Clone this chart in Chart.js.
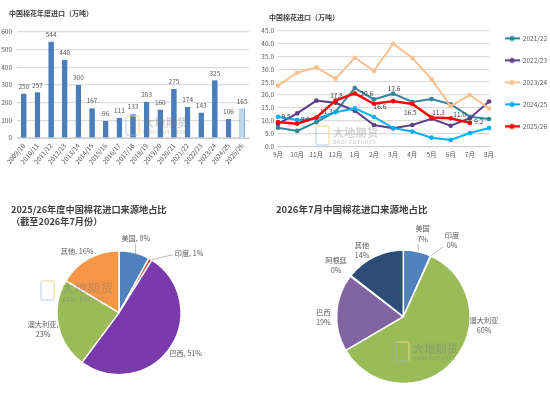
<!DOCTYPE html>
<html lang="zh"><head><meta charset="utf-8">
<script src="https://cdn.jsdelivr.net/npm/chart.js@4"></script>
<style>
html,body{margin:0;padding:0;width:550px;height:406px;overflow:hidden;background:#fff}
canvas{position:absolute;display:block}
.wm{position:absolute;font-family:"Noto Sans CJK SC",sans-serif;pointer-events:none;z-index:5}
.wm .cn{position:absolute;left:18px;top:-2px;font-size:11px;line-height:13px;font-weight:700;color:rgba(120,120,120,.33);white-space:nowrap;letter-spacing:.3px}
.wm .en{position:absolute;left:18px;top:11px;font-size:5px;line-height:6px;font-weight:700;color:rgba(120,120,120,.3);white-space:nowrap;letter-spacing:.6px}
.wm .lg{position:absolute;left:0;top:-3px;width:11px;height:17px;border:2px solid rgba(150,185,225,.35);border-right-color:rgba(240,215,140,.5);border-top-color:rgba(240,215,140,.5);border-radius:3px}
</style></head><body>
<canvas id="c1" style="left:0;top:0;width:265px;height:185px"></canvas>
<canvas id="c2" style="left:255px;top:0;width:335px;height:185px"></canvas>
<canvas id="c3" style="left:0;top:190px;width:265px;height:216px"></canvas>
<canvas id="c4" style="left:265px;top:190px;width:285px;height:216px"></canvas>
<div class="wm" style="left:125px;top:118px"><div class="lg"></div><div class="cn">大地期货</div><div class="en">DADI FUTURES</div></div>
<div class="wm" style="left:315px;top:128px"><div class="lg"></div><div class="cn">大地期货</div><div class="en">DADI FUTURES</div></div>
<div class="wm" style="left:40px;top:283px"><div class="lg"></div><div class="cn" style="left:22px;font-size:12.5px">大地期货</div><div class="en" style="left:22px;top:14px;font-size:5.5px">DADI FUTURES</div></div>
<div class="wm" style="left:395px;top:344px"><div class="lg"></div><div class="cn">大地期货</div><div class="en">DADI FUTURES</div></div>
<script>
const FONT = '"Noto Sans CJK SC","Noto Sans",sans-serif';
const GREY = '#595959';
const yearCats = ['2009/10','2010/11','2011/12','2012/13','2013/14','2014/15','2015/16','2016/17','2017/18','2018/19','2019/20','2020/21','2021/22','2022/23','2023/24','2024/25','2025/26'];
const yearVals = [250,257,544,440,300,167,96,111,133,203,160,275,174,143,325,106,165];
const months = ['9月','10月','11月','12月','1月','2月','3月','4月','5月','6月','7月','8月'];
const s2122 = [7.3,6.1,9.5,13.5,22.7,18.3,20.5,17.3,18.4,16.4,11.6,10.7];
const s2223 = [8.8,12.9,17.8,17.0,13.9,8.4,7.1,8.4,10.8,8.1,11.0,17.5];
const s2324 = [23.6,28.6,30.7,26.3,34.4,29.3,39.8,34.3,26.2,15.6,20.0,14.8];
const s2425 = [11.6,10.3,10.8,13.3,14.8,11.5,7.2,5.9,3.5,2.6,5.3,7.2];
const s2526 = [9.5,8.9,11.3,17.8,20.6,16.6,17.6,16.5,11.3,11.0,9.2,null];
const pieANames = ['美国','印度','巴西','澳大利亚','其他'];
const pieAVals = [8.0,0.9,51.3,23.4,16.4];
const pieBNames = ['美国','印度','澳大利亚','巴西','阿根廷','其他'];
const pieBVals = [6.7,0.1,59.8,18.8,0.2,14.4];

Chart.defaults.font.family = FONT;
Chart.defaults.color = GREY;
Chart.defaults.animation = false;
Chart.defaults.responsive = false;
Chart.defaults.devicePixelRatio = 1;

function size(id){const c=document.getElementById(id);c.width=parseInt(c.style.width);c.height=parseInt(c.style.height);return c;}

// The title starts further right than the axis labels
const titleShift = px => ({id:'titleShift',afterLayout(ch){ch.titleBlock.left=px;}});

const barLabels = {id:'barLabels',afterDatasetsDraw(ch){
  const c=ch.ctx;c.save();c.font='6.5px '+FONT;c.fillStyle=GREY;c.textAlign='center';c.textBaseline='middle';
  ch.getDatasetMeta(0).data.forEach((b,i)=>c.fillText(String(yearVals[i]),b.x,b.y-7.5));
  c.restore();}};

// Label shifts (px) relative to each 2025/26 point
const lineLabelShift = [[8,-6],[8,-4],[10,-6],[1,-5],[12,0],[6,2.5],[1,-13],[-2,9],[7,-5],[9,-4],[9,-1.5]];
const lineLabels = {id:'lineLabels',afterDatasetsDraw(ch){
  const c=ch.ctx;c.save();c.font='6.5px '+FONT;c.fillStyle='#404040';c.textAlign='center';c.textBaseline='middle';
  ch.getDatasetMeta(4).data.forEach((p,i)=>{ if(s2526[i]==null)return;
    c.fillText(s2526[i].toFixed(1),p.x+lineLabelShift[i][0],p.y+lineLabelShift[i][1]);});
  c.restore();}};

function swatch(col,w){const k=document.createElement('canvas');k.width=15;k.height=8;const x=k.getContext('2d');
  x.strokeStyle=col;x.lineWidth=w;x.beginPath();x.moveTo(0,4);x.lineTo(15,4);x.stroke();
  x.fillStyle=col;x.beginPath();x.arc(7.5,4,2.6,0,7);x.fill();return k;}

// Offsets (px) from the pie centre: label line positions, and leader lines
function pieLabels(id,names,vals,sep,pos,leaders){return {id,afterDatasetsDraw(ch){
  const c=ch.ctx,arc=ch.getDatasetMeta(0).data[0],cx=arc.x,cy=arc.y;
  c.save();c.strokeStyle='#a6a6a6';c.lineWidth=.8;
  leaders.forEach(l=>{c.beginPath();c.moveTo(cx+l[0],cy+l[1]);c.lineTo(cx+l[2],cy+l[3]);if(l.length>4)c.lineTo(cx+l[4],cy+l[5]);c.stroke();});
  c.font='7.2px '+FONT;c.fillStyle=GREY;c.textAlign='center';c.textBaseline='middle';
  names.forEach((n,i)=>{const p=Math.round(vals[i])+'%',q=pos[i];
    if(sep[i]){c.fillText(n+(sep[i]===2?',':''),cx+q[0],cy+q[1]);c.fillText(p,cx+q[0],cy+q[1]+10.3);}
    else c.fillText(n+', '+p,cx+q[0],cy+q[1]);});
  c.restore();}};}

const noGrid={display:false,drawTicks:false};
new Chart(size('c1'),{type:'bar',plugins:[barLabels,titleShift(9)],
 data:{labels:yearCats,datasets:[{data:yearVals,
   backgroundColor:yearCats.map((_,i)=>i===16?'#bdd7ee':'#4a7ebb'),
   borderColor:yearCats.map((_,i)=>i===16?'#5b9bd5':'#4a7ebb'),borderWidth:.6,barThickness:5}]},
 options:{layout:{padding:{left:0,right:16,top:0,bottom:7}},
  plugins:{legend:{display:false},tooltip:{enabled:false},
   title:{display:true,text:'中国棉花年度进口（万吨）',align:'start',color:'#404040',font:{size:7,weight:'bold',lineHeight:1.2},padding:{top:9,bottom:14.6}}},
  scales:{
   x:{grid:noGrid,border:{color:'#d0d0d0'},afterFit(a){a.height=40;},ticks:{font:{size:6.5},minRotation:50,maxRotation:50,padding:4,autoSkip:false}},
   y:{min:0,max:600,afterFit(a){a.width=17;},grid:{color:'#dcdcdc',lineWidth:1.2,drawTicks:false},border:{display:false},ticks:{font:{size:6.5},stepSize:100,padding:5}}}}});

new Chart(size('c2'),{type:'line',plugins:[lineLabels,titleShift(14)],
 data:{labels:months,datasets:[
  ['2021/22',s2122,'#31859c',2,5],['2022/23',s2223,'#5f3f86',2,4],['2023/24',s2324,'#fac090',2,3],['2024/25',s2425,'#00b0f0',2,2],['2025/26',s2526,'#ff0000',2.4,1]
 ].map(d=>({label:d[0],data:d[1],borderColor:d[2],backgroundColor:d[2],borderWidth:d[3],order:d[4],pointRadius:2.3,pointBorderWidth:0,tension:0,spanGaps:false}))},
 options:{layout:{padding:{left:0,right:33,top:0,bottom:20.3}},
  plugins:{tooltip:{enabled:false},
   legend:{position:'right',align:'center',labels:{usePointStyle:true,pointStyleWidth:15,boxHeight:7,font:{size:6.5},color:GREY,padding:15.5,
     sort:(a,b)=>a.datasetIndex-b.datasetIndex,
     generateLabels(ch){const L=Chart.defaults.plugins.legend.labels.generateLabels(ch);
       L.forEach(it=>{const d=ch.data.datasets[it.datasetIndex];it.pointStyle=swatch(d.borderColor,d.borderWidth);it.fontColor=GREY;});return L;}}},
   title:{display:true,text:'中国棉花进口（万吨）',align:'start',color:'#404040',font:{size:7,weight:'bold',lineHeight:1.2},padding:{top:13,bottom:8.9}}},
  scales:{
   x:{grid:noGrid,border:{color:'#d0d0d0'},afterFit(a){a.height=18;},ticks:{font:{size:6.5},padding:4,maxRotation:0}},
   y:{min:0,max:45,afterFit(a){a.width=23;},grid:{color:'#dcdcdc',lineWidth:1.2,drawTicks:false},border:{display:false},ticks:{font:{size:6.5},stepSize:5,padding:4,callback:v=>Number(v).toFixed(1)}}}}});

new Chart(size('c3'),{type:'pie',
 plugins:[pieLabels('pieA',pieANames,pieAVals,[0,0,0,2,0],[[16.7,-74],[70,-59.3],[66.7,40.7],[-76,11.3],[-42,-61.3]],[[16.5,-69,16.5,-58.5],[54,-58,33,-53]])],
 data:{labels:pieANames,datasets:[{data:pieAVals,radius:62,backgroundColor:['#4f81bd','#c0504d','#7a3aab','#9bbb59','#f79646'],borderColor:'#fff',borderWidth:1.5}]},
 options:{layout:{padding:{left:11,right:38,top:0,bottom:8.6}},
  plugins:{legend:{display:false},tooltip:{enabled:false},
   title:{display:true,text:['2025/26年度中国棉花进口来源地占比','（截至2026年7月份）'],align:'start',color:'#404040',font:{size:9.2,weight:'bold',lineHeight:1.3},padding:{top:14,bottom:0}}}}});

new Chart(size('c4'),{type:'pie',
 plugins:[pieLabels('pieB',pieBNames,pieBVals,[1,1,1,1,1,1],[[19.3,-88],[48.7,-81.7],[80.7,3.3],[-80,-4.3],[-67.3,-56.3],[-41.3,-71.7]],[[14.5,-73,15.2,-66],[40,-70,28,-61]])],
 data:{labels:pieBNames,datasets:[{data:pieBVals,radius:66.7,backgroundColor:['#4f81bd','#c0504d','#9bbb59','#8064a2','#4bacc6','#2c4d75'],borderColor:'#fff',borderWidth:1.5}]},
 options:{layout:{padding:{left:11,right:19.4,top:0,bottom:0}},
  plugins:{legend:{display:false},tooltip:{enabled:false},
   title:{display:true,text:'2026年7月中国棉花进口来源地占比',align:'start',color:'#404040',font:{size:9.5,weight:'bold',lineHeight:1.2},padding:{top:14,bottom:12}}}}});
</script></body></html>
